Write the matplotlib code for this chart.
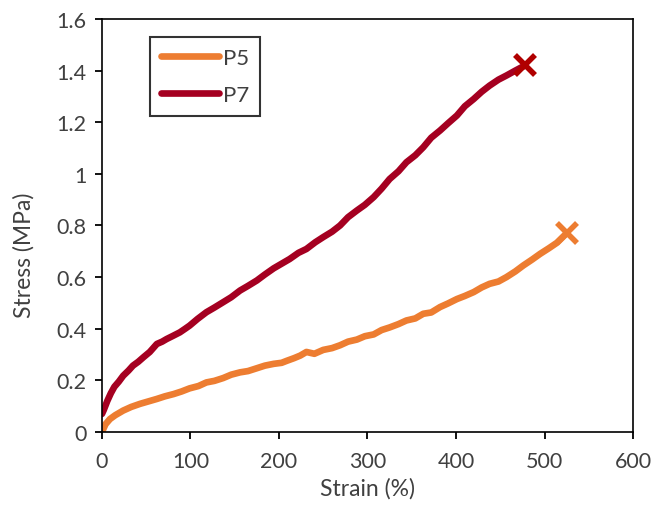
import matplotlib
matplotlib.use('Agg')
import matplotlib.pyplot as plt
import matplotlib.ticker as mtick

plt.rcParams['font.family'] = ['Lato', 'DejaVu Sans']

# strain (%) / stress (MPa)
p5_x = [0, 4, 9, 15, 24, 33, 43, 52, 62, 71, 81, 90, 99, 109, 118, 127, 137, 146, 156,
        165, 175, 184, 194, 203, 209, 217, 224, 231, 240, 250, 260, 269, 278, 288, 297,
        307, 316, 325, 335, 344, 354, 363, 372, 382, 391, 401, 410, 420, 429, 438, 448,
        457, 467, 476, 486, 495, 505, 514, 525]
p5_y = [0.0, 0.03, 0.05, 0.065, 0.083, 0.097, 0.109, 0.118, 0.128, 0.138, 0.147, 0.157,
        0.169, 0.178, 0.192, 0.198, 0.209, 0.222, 0.231, 0.236, 0.247, 0.257, 0.264,
        0.268, 0.276, 0.286, 0.296, 0.310, 0.303, 0.318, 0.325, 0.336, 0.350, 0.358,
        0.371, 0.378, 0.395, 0.405, 0.418, 0.432, 0.440, 0.458, 0.463, 0.484, 0.498,
        0.515, 0.527, 0.542, 0.560, 0.574, 0.583, 0.600, 0.622, 0.645, 0.668, 0.690,
        0.712, 0.733, 0.770]
p7_x = [0, 2, 6, 10, 14, 19, 24, 30, 35, 41, 47, 54, 62, 68, 73, 80, 88, 94, 99, 108,
        118, 127, 137, 146, 156, 165, 175, 184, 194, 203, 212, 222, 231, 241, 250, 260,
        269, 278, 288, 297, 307, 316, 325, 335, 344, 354, 363, 372, 382, 391, 401, 410,
        420, 429, 438, 448, 457, 467, 478]
p7_y = [0.07, 0.085, 0.12, 0.15, 0.175, 0.195, 0.218, 0.238, 0.257, 0.272, 0.29, 0.31,
        0.341, 0.35, 0.36, 0.372, 0.386, 0.40, 0.412, 0.438, 0.464, 0.482, 0.503, 0.522,
        0.548, 0.566, 0.587, 0.61, 0.634, 0.652, 0.67, 0.694, 0.709, 0.735, 0.755, 0.776,
        0.80, 0.832, 0.858, 0.88, 0.91, 0.943, 0.98, 1.01, 1.045, 1.072, 1.103, 1.14,
        1.168, 1.196, 1.226, 1.262, 1.29, 1.318, 1.342, 1.365, 1.381, 1.40, 1.42]

c5 = '#ED7D31'
c7 = '#A50021'

fig = plt.figure(figsize=(6.52, 5.06), dpi=100)
ax = fig.add_axes([0.1564, 0.1443, 0.8145, 0.8162])

ax.plot(p5_x, p5_y, color=c5, lw=4.8, solid_capstyle='round', solid_joinstyle='round', label='P5')
ax.plot(p7_x, p7_y, color=c7, lw=4.8, solid_capstyle='round', solid_joinstyle='round', label='P7')
# failure points
ax.plot(p5_x[-1], p5_y[-1], 'x', color=c5, ms=14, mew=4)
ax.plot(p7_x[-1], p7_y[-1], 'x', color='#B00000', ms=14, mew=4)

ax.set_xlim(0, 600)
ax.set_ylim(0, 1.6)
ax.set_xticks(range(0, 601, 100))
ax.set_yticks([0, 0.2, 0.4, 0.6, 0.8, 1.0, 1.2, 1.4, 1.6])
ax.yaxis.set_major_formatter(mtick.FormatStrFormatter('%g'))
ax.tick_params(direction='out', length=5, width=1.3, labelsize=15.5, colors='black',
               labelcolor='#404040', pad=6)
ax.tick_params(axis='x', pad=9)
for s in ax.spines.values():
    s.set_linewidth(1.2)
    s.set_color('black')

ax.set_xlabel('Strain (%)', fontsize=16.5, color='#404040', labelpad=4)
ax.set_ylabel('Stress (MPa)', fontsize=16.5, color='#404040')
ax.yaxis.set_label_coords(-0.127, 0.43)

leg = ax.legend(loc='upper left', bbox_to_anchor=(0.09, 0.957), fontsize=16,
                frameon=True, fancybox=False, handlelength=2.6, borderpad=0.5,
                labelspacing=0.75, handletextpad=0.2, borderaxespad=0)
leg.get_frame().set_edgecolor('black')
leg.get_frame().set_linewidth(1.5)
for t in leg.get_texts():
    t.set_color('#404040')

plt.savefig('out.png', dpi=100)
